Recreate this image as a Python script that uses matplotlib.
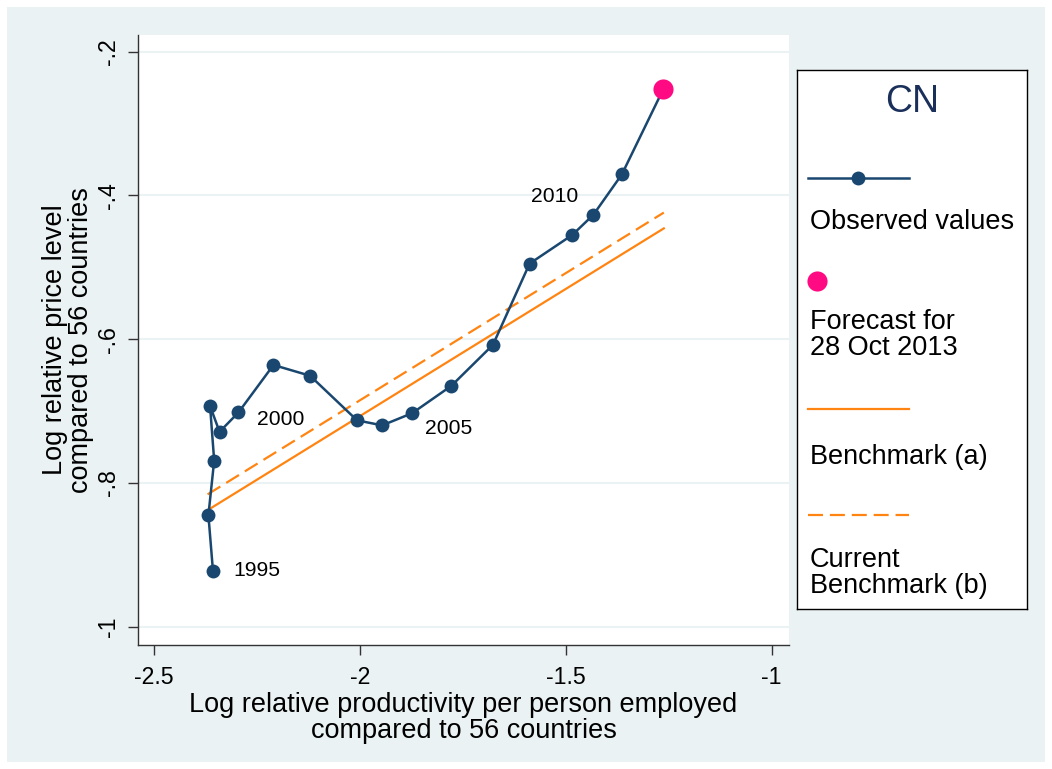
import matplotlib
matplotlib.use('Agg')
import matplotlib.pyplot as plt

plt.rcParams['font.family'] = ['Liberation Sans', 'DejaVu Sans']

# Observed values, 1995 - 2011
years = list(range(1995, 2012))
productivity = [-2.357, -2.368, -2.354, -2.364, -2.341, -2.295, -2.210, -2.121,
                -2.007, -1.946, -1.873, -1.778, -1.677, -1.588, -1.484, -1.433, -1.364]
price_level = [-0.922, -0.845, -0.769, -0.693, -0.729, -0.702, -0.636, -0.651,
               -0.713, -0.720, -0.703, -0.665, -0.608, -0.495, -0.455, -0.427, -0.371]

# Forecast point
forecast_x = [-1.263]
forecast_y = [-0.252]

# Benchmark lines (end points)
bench_x = [-2.370, -1.262]
bench_a = [-0.838, -0.446]
bench_b = [-0.816, -0.424]

# year labels and their offsets (points)
label_years = [1995, 2000, 2005, 2010]
label_off = {1995: (15, 0, 'left'), 2000: (13, -5, 'left'),
             2005: (9, -11, 'left'), 2010: (-28, 13, 'center')}

xticks = [-2.5, -2, -1.5, -1]
xticklabels = ['-2.5', '-2', '-1.5', '-1']
yticks = [-1, -0.8, -0.6, -0.4, -0.2]
yticklabels = ['-1', '-.8', '-.6', '-.4', '-.2']

navy = '#1a476f'
pink = '#ff0a82'
orange = '#ff8411'
bg = '#eaf2f3'
dash = (0, (6.75, 3.1))

W, H = 1052, 769
fig = plt.figure(figsize=(W / 100, H / 100), dpi=100)
fig.patch.set_facecolor('white')
# stata style background panel
fig.add_artist(plt.Rectangle((7 / W, 7 / H), 1 - 14 / W, 1 - 14 / H,
                             transform=fig.transFigure, facecolor=bg,
                             edgecolor='none', zorder=-10))

ax = fig.add_axes([138 / W, 1 - 645 / H, (789 - 138) / W, (645 - 35) / H])
ax.set_facecolor('white')

ax.plot(bench_x, bench_a, color=orange, lw=1.6, zorder=2)
ax.plot(bench_x, bench_b, color=orange, lw=1.6, ls=dash, zorder=2)
ax.plot(productivity, price_level, color=navy, lw=1.8, marker='o',
        markersize=10, markeredgewidth=0, zorder=3)
ax.plot(forecast_x, forecast_y, color=pink, marker='o', markersize=14.5,
        markeredgewidth=0, ls='none', zorder=4)
# connect last observed to forecast
ax.plot([productivity[-1], forecast_x[0]], [price_level[-1], forecast_y[0]],
        color=navy, lw=1.8, zorder=3)

for yr in label_years:
    i = years.index(yr)
    dx, dy, ha = label_off[yr]
    ax.annotate(str(yr), (productivity[i], price_level[i]), xytext=(dx, dy),
                textcoords='offset points', ha=ha, va='center', fontsize=15.2,
                color='black')

ax.set_xlim(-2.539, -0.958)
ax.set_ylim(-1.0255, -0.177)
ax.set_xticks(xticks)
ax.set_xticklabels(xticklabels)
ax.set_yticks(yticks)
ax.set_yticklabels(yticklabels, rotation=90, va='center')
ax.tick_params(axis='both', direction='out', length=7, width=1, color='#333333',
               labelsize=16.7, pad=6)
ax.tick_params(axis='x', pad=8)
ax.grid(axis='y', color=bg, lw=1.5)
ax.set_axisbelow(True)
for s in ['top', 'right']:
    ax.spines[s].set_visible(False)
for s in ['left', 'bottom']:
    ax.spines[s].set_color('#333333')
    ax.spines[s].set_linewidth(1)

ax.set_xlabel('Log relative productivity per person employed\ncompared to 56 countries',
              fontsize=19.5, labelpad=2, linespacing=1.0)
ax.set_ylabel('Log relative price level\ncompared to 56 countries',
              fontsize=19.5, labelpad=2, linespacing=1.0)

# legend box on the right
lg = fig.add_axes([797 / W, 1 - 609 / H, 230 / W, 539 / H])
lg.set_xlim(797, 1027)
lg.set_ylim(609, 70)
lg.set_xticks([])
lg.set_yticks([])
for s in lg.spines.values():
    s.set_color('black')
    s.set_linewidth(1)
lg.text(912, 102, 'CN', ha='center', va='center', fontsize=27, color='#1a2f5a')
lg.plot([808, 909], [178, 178], color=navy, lw=1.8)
lg.plot([858], [178], color=navy, marker='o', markersize=10, markeredgewidth=0)
lg.text(810, 222, 'Observed values', ha='left', va='center', fontsize=19.5)
lg.plot([817], [281], color=pink, marker='o', markersize=14.5, markeredgewidth=0)
lg.text(810, 335, 'Forecast for\n28 Oct 2013', ha='left', va='center',
        fontsize=19.5, linespacing=0.97)
lg.plot([808, 909], [409, 409], color=orange, lw=1.6)
lg.text(810, 457, 'Benchmark (a)', ha='left', va='center', fontsize=19.5)
lg.plot([808, 909], [515, 515], color=orange, lw=1.6, ls=dash)
lg.text(810, 573, 'Current\nBenchmark (b)', ha='left', va='center',
        fontsize=19.5, linespacing=0.97)

fig.savefig('out.png', dpi=100)
